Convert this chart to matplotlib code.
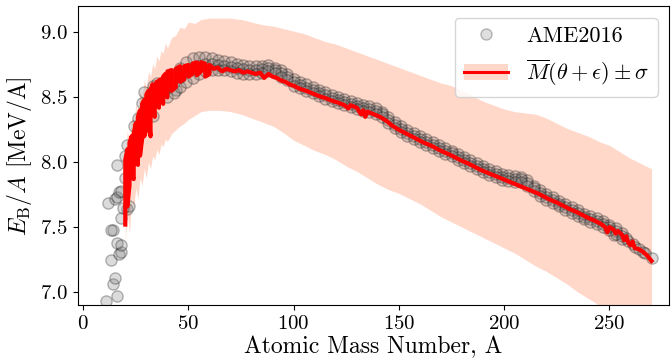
import matplotlib
matplotlib.use("Agg")
import matplotlib.pyplot as plt
from matplotlib.patches import Patch
from matplotlib.lines import Line2D

plt.rcParams['font.family'] = 'serif'
plt.rcParams['font.serif'] = ['cmr10', 'DejaVu Serif']
plt.rcParams['mathtext.fontset'] = 'cm'
plt.rcParams['axes.formatter.use_mathtext'] = True

# AME2016 points, light nuclei read one by one
light_A = [11, 16, 14, 15, 13, 17, 18, 16, 18, 14, 13, 18, 21, 19, 22, 12, 15, 16, 17, 18,
           16, 20, 21, 24, 26, 28, 29, 33, 35, 38, 30, 29, 26, 33, 40, 44, 46, 20, 23]
light_BA = [6.93, 6.97, 7.06, 7.11, 7.25, 7.29, 7.31, 7.38, 7.36, 7.48, 7.48, 7.57, 7.64, 7.65, 7.66, 7.69, 7.72, 7.73, 7.77, 7.78,
            7.98, 8.05, 8.13, 8.28, 8.34, 8.46, 8.54, 8.59, 8.61, 8.54, 8.38, 8.31, 8.20, 8.36, 8.59, 8.56, 8.66, 7.88, 8.02]

# AME2016 dense ribbon (upper / middle / lower rows)
ame_A = [40, 43, 46, 49, 52, 55, 58, 61, 64, 67, 70, 73, 76, 79, 82, 85, 88, 91, 94, 97,
         100, 103, 106, 109, 112, 115, 118, 121, 124, 127, 130, 133, 136, 139, 142, 145, 148, 151, 154, 157,
         160, 163, 166, 169, 172, 175, 178, 181, 184, 187, 190, 193, 196, 199, 202, 205, 208, 211, 214, 217,
         220, 223, 226, 229, 232, 235, 238, 241, 244, 247, 250, 253, 256]
ame_hi = [8.64, 8.68, 8.73, 8.77, 8.80, 8.81, 8.81, 8.80, 8.79, 8.78, 8.77, 8.76, 8.75, 8.74, 8.74, 8.74, 8.75, 8.73, 8.71, 8.68,
          8.64, 8.62, 8.60, 8.58, 8.56, 8.54, 8.52, 8.50, 8.485, 8.47, 8.455, 8.44, 8.43, 8.42, 8.39, 8.35, 8.31, 8.28, 8.25, 8.225,
          8.20, 8.18, 8.155, 8.13, 8.11, 8.09, 8.065, 8.04, 8.02, 7.995, 7.97, 7.95, 7.93, 7.91, 7.90, 7.895, 7.89, 7.86, 7.82, 7.785,
          7.755, 7.73, 7.705, 7.68, 7.655, 7.63, 7.605, 7.585, 7.57, 7.545, 7.52, 7.49, 7.455]
ame_mid = [8.57, 8.61, 8.66, 8.70, 8.73, 8.745, 8.755, 8.755, 8.75, 8.745, 8.735, 8.725, 8.715, 8.71, 8.71, 8.715, 8.725, 8.71, 8.685, 8.655,
           8.615, 8.595, 8.575, 8.555, 8.535, 8.515, 8.495, 8.478, 8.462, 8.448, 8.432, 8.418, 8.408, 8.398, 8.368, 8.328, 8.288, 8.258, 8.228, 8.202,
           8.178, 8.158, 8.132, 8.108, 8.088, 8.068, 8.042, 8.018, 7.998, 7.972, 7.948, 7.928, 7.908, 7.888, 7.878, 7.872, 7.868, 7.838, 7.798, 7.762,
           7.732, 7.708, 7.682, 7.658, 7.632, 7.608, 7.582, 7.562, 7.548, 7.522, 7.498, 7.468, 7.432]
ame_lo = [8.50, 8.53, 8.58, 8.62, 8.65, 8.68, 8.70, 8.71, 8.71, 8.71, 8.70, 8.69, 8.68, 8.68, 8.68, 8.69, 8.70, 8.69, 8.66, 8.63,
          8.59, 8.57, 8.55, 8.53, 8.51, 8.49, 8.47, 8.455, 8.44, 8.425, 8.41, 8.395, 8.385, 8.375, 8.345, 8.305, 8.265, 8.235, 8.205, 8.18,
          8.155, 8.135, 8.11, 8.085, 8.065, 8.045, 8.02, 7.995, 7.975, 7.95, 7.925, 7.905, 7.885, 7.865, 7.855, 7.85, 7.845, 7.815, 7.775, 7.74,
          7.71, 7.685, 7.66, 7.635, 7.61, 7.585, 7.56, 7.54, 7.525, 7.50, 7.475, 7.445, 7.41]

# heaviest nuclei
heavy_A = [252, 258, 259, 261, 262, 264, 266, 267, 270]
heavy_BA = [7.44, 7.42, 7.39, 7.37, 7.35, 7.33, 7.31, 7.30, 7.26]

# model mean, light part (min / max per A)
zig_A = [20, 21, 22, 23, 24, 25, 26, 27, 28, 29, 30, 31, 32, 33, 34, 35, 36, 37, 38, 39,
         40, 42, 44, 46, 48, 50, 52, 54, 56, 58, 60]
zig_lo = [7.52, 7.66, 7.82, 7.90, 7.87, 8.00, 7.98, 8.05, 8.18, 8.20, 8.25, 8.32, 8.20, 8.40, 8.35, 8.45, 8.42, 8.50, 8.45, 8.52,
          8.50, 8.55, 8.58, 8.62, 8.64, 8.66, 8.68, 8.67, 8.70, 8.66, 8.68]
zig_hi = [8.02, 8.10, 8.15, 8.20, 8.22, 8.30, 8.35, 8.40, 8.45, 8.48, 8.52, 8.55, 8.56, 8.60, 8.58, 8.62, 8.63, 8.64, 8.66, 8.68,
          8.70, 8.71, 8.72, 8.74, 8.74, 8.75, 8.76, 8.77, 8.77, 8.76, 8.75]

# model mean, heavier part
mean_A = [62, 64, 66, 68, 70, 72, 74, 76, 78, 80, 82, 84, 86, 88, 90, 92, 94, 96, 98, 100,
          103, 106, 109, 112, 115, 118, 121, 124, 126, 127, 130, 132, 133, 134, 135, 138, 141, 144, 147, 150,
          153, 156, 159, 162, 165, 168, 171, 174, 177, 180, 183, 186, 189, 192, 195, 198, 201, 204, 207, 210,
          213, 216, 219, 222, 225, 228, 231, 234, 237, 240, 243, 246, 248, 249, 250, 252, 253, 254, 256, 257,
          258, 259, 260, 261, 262, 264, 266, 268, 270]
mean_BA = [8.72, 8.73, 8.70, 8.72, 8.71, 8.70, 8.71, 8.69, 8.70, 8.69, 8.68, 8.69, 8.65, 8.68, 8.66, 8.65, 8.63, 8.62, 8.60, 8.59,
           8.565, 8.55, 8.53, 8.51, 8.495, 8.475, 8.46, 8.44, 8.415, 8.44, 8.42, 8.37, 8.40, 8.35, 8.39, 8.37, 8.35, 8.32, 8.28, 8.25,
           8.225, 8.20, 8.175, 8.15, 8.13, 8.105, 8.08, 8.06, 8.035, 8.01, 7.99, 7.965, 7.94, 7.92, 7.90, 7.88, 7.86, 7.84, 7.82, 7.80,
           7.78, 7.76, 7.735, 7.71, 7.69, 7.665, 7.64, 7.62, 7.595, 7.57, 7.55, 7.525, 7.50, 7.46, 7.50, 7.48, 7.45, 7.47, 7.44, 7.40,
           7.43, 7.38, 7.36, 7.39, 7.34, 7.33, 7.31, 7.28, 7.24]

# +- sigma band
band_A = [20, 21, 22, 23, 24, 25, 26, 27, 28, 29, 30, 31, 32, 33, 34, 35, 36, 37, 38, 39,
          40, 42, 44, 46, 48, 50, 53, 56, 60, 65, 70, 75, 80, 85, 90, 95, 100, 105, 110, 115,
          120, 125, 130, 135, 140, 145, 150, 155, 160, 165, 170, 175, 180, 185, 190, 195, 200, 205, 210, 215,
          220, 225, 230, 235, 240, 245, 250, 255, 260, 265, 270]
band_hi = [8.05, 8.25, 8.15, 8.35, 8.28, 8.45, 8.38, 8.55, 8.50, 8.63, 8.58, 8.70, 8.66, 8.76, 8.72, 8.82, 8.78, 8.86, 8.84, 8.92,
           8.88, 8.96, 8.98, 9.04, 9.03, 9.08, 9.07, 9.10, 9.11, 9.11, 9.11, 9.10, 9.08, 9.06, 9.05, 9.03, 9.01, 8.99, 8.96, 8.93,
           8.91, 8.88, 8.85, 8.82, 8.79, 8.76, 8.73, 8.70, 8.67, 8.64, 8.61, 8.59, 8.55, 8.51, 8.47, 8.44, 8.41, 8.39, 8.38, 8.37,
           8.34, 8.30, 8.26, 8.23, 8.20, 8.16, 8.13, 8.08, 8.03, 7.99, 7.95]
band_lo = [7.40, 7.60, 7.45, 7.72, 7.65, 7.80, 7.72, 7.88, 7.82, 7.95, 7.88, 8.00, 7.95, 8.05, 8.02, 8.10, 8.06, 8.14, 8.12, 8.18,
           8.16, 8.22, 8.25, 8.28, 8.30, 8.33, 8.36, 8.39, 8.40, 8.40, 8.39, 8.37, 8.34, 8.31, 8.28, 8.23, 8.17, 8.13, 8.09, 8.06,
           8.02, 7.97, 7.93, 7.88, 7.83, 7.79, 7.76, 7.72, 7.68, 7.63, 7.58, 7.54, 7.50, 7.46, 7.42, 7.38, 7.34, 7.30, 7.25, 7.20,
           7.16, 7.11, 7.06, 7.00, 6.95, 6.90, 6.86, 6.81, 6.77, 6.73, 6.70]

band_color = '#ffd8ca'

fig = plt.figure(figsize=(6.71, 3.61), dpi=100)
ax = fig.add_subplot(111)
fig.subplots_adjust(left=0.1155, right=0.997, bottom=0.155, top=0.982)

ax.fill_between(band_A, band_lo, band_hi, color=band_color, lw=0, zorder=1)

sc_kw = dict(s=65, c='grey', edgecolors='k', alpha=0.28, linewidths=1.0, zorder=2)
ax.scatter(light_A, light_BA, **sc_kw)
ax.scatter(heavy_A, heavy_BA, **sc_kw)
for row in (ame_hi, ame_mid, ame_lo):
    ax.scatter(ame_A, row, **sc_kw)

# zig-zag the light part: lo, hi, hi, lo, ...
zx, zy = [], []
for i in range(len(zig_A)):
    zx += [zig_A[i], zig_A[i]]
    if i % 2 == 0:
        zy += [zig_lo[i], zig_hi[i]]
    else:
        zy += [zig_hi[i], zig_lo[i]]
ax.plot(zx + mean_A, zy + mean_BA, color='red', lw=3, zorder=3)

ax.set_xlim(-2.7, 278.3)
ax.set_ylim(6.9, 9.2)
ax.set_xticks([0, 50, 100, 150, 200, 250])
ax.set_yticks([7.0, 7.5, 8.0, 8.5, 9.0])
ax.tick_params(labelsize=15)
ax.set_xlabel('Atomic Mass Number, A', fontsize=17, labelpad=2)
ax.set_ylabel(r'$E_{\rm B}/A$ [MeV/A]', fontsize=17, labelpad=4)

h1 = Line2D([], [], ls='', marker='o', markersize=8, markerfacecolor='grey',
            markeredgecolor='k', alpha=0.25)
h2 = (Patch(facecolor=band_color, edgecolor='none'), Line2D([], [], color='red', lw=2.2))
ax.legend([h1, h2], ['AME2016', r'$\overline{M}(\theta+\epsilon)\pm\sigma$'],
          loc='upper right', fontsize=16)

plt.savefig('out.png', dpi=100)
